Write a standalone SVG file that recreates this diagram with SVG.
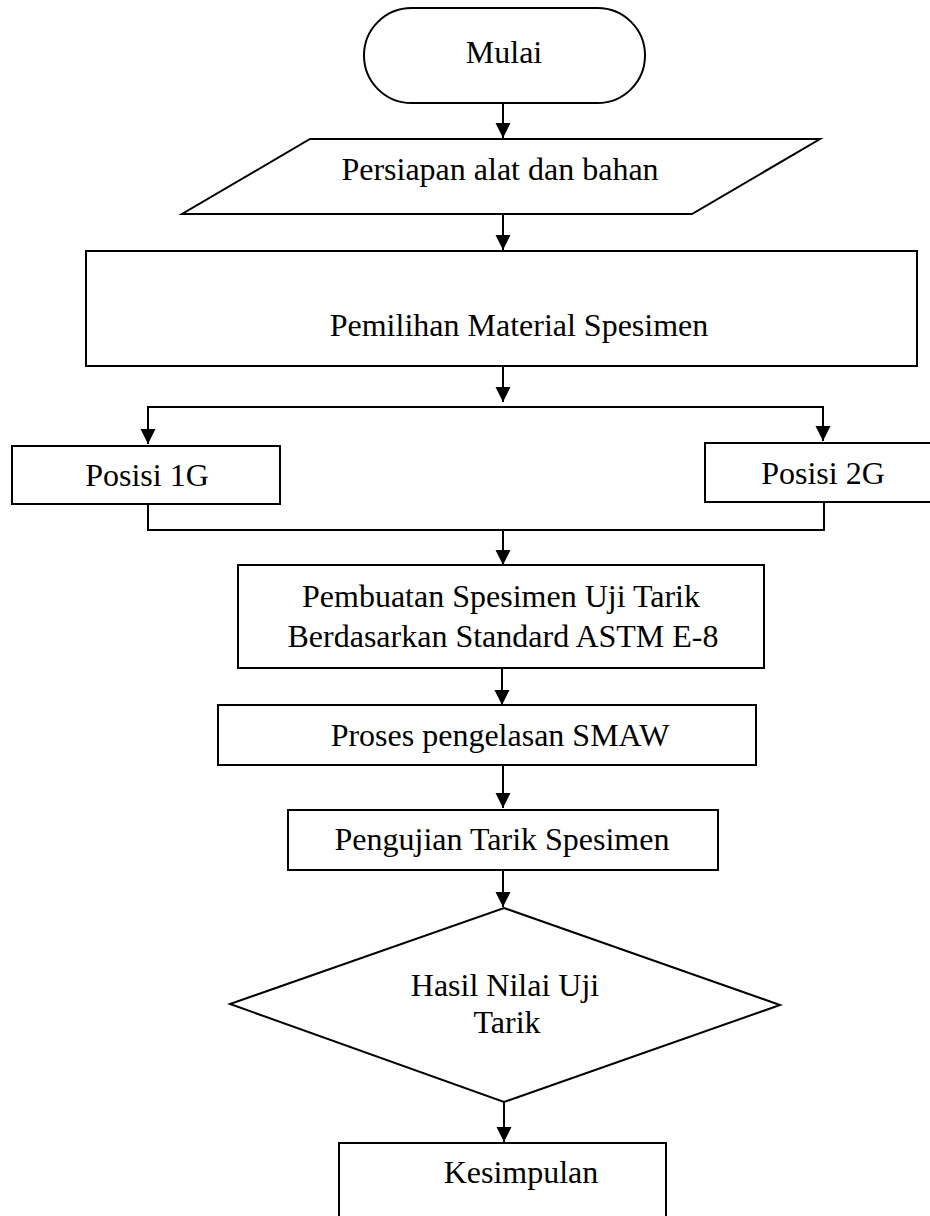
<svg xmlns="http://www.w3.org/2000/svg" width="930" height="1216" viewBox="0 0 930 1216">
<style>
.s{fill:#fff;stroke:#000;stroke-width:2}
.t{font-family:"Liberation Serif","Times New Roman",serif;font-size:32px;fill:#000;text-anchor:middle}
.c{fill:none;stroke:#000;stroke-width:2}
</style>
<defs>
<marker id="ah" markerUnits="userSpaceOnUse" markerWidth="16" markerHeight="16" refX="15" refY="7.5" orient="auto">
<path d="M0,0 L15,7.5 L0,15 z" fill="#000"/>
</marker>
</defs>
<rect width="930" height="1216" fill="#fff"/>
<g id="connectors">
<line class="c" x1="503" y1="103" x2="503" y2="138" marker-end="url(#ah)"/>
<line class="c" x1="503" y1="214" x2="503" y2="250" marker-end="url(#ah)"/>
<line class="c" x1="503" y1="366" x2="503" y2="402" marker-end="url(#ah)"/>
<polyline class="c" points="148,444 148,407 823,407 823,441" marker-end="url(#ah)"/>
<line class="c" x1="148" y1="407" x2="148" y2="444" marker-end="url(#ah)"/>
<polyline class="c" points="148,504 148,530 824,530 824,502"/>
<line class="c" x1="503" y1="530" x2="503" y2="565" marker-end="url(#ah)"/>
<line class="c" x1="502" y1="668" x2="502" y2="705" marker-end="url(#ah)"/>
<line class="c" x1="503" y1="765" x2="503" y2="808" marker-end="url(#ah)"/>
<line class="c" x1="503" y1="870" x2="503" y2="907" marker-end="url(#ah)"/>
<line class="c" x1="504" y1="1102" x2="504" y2="1142" marker-end="url(#ah)"/>
</g>
<g id="mulai">
<rect class="s" x="364" y="8" width="281" height="95" rx="47.5" ry="47.5"/>
<text class="t" x="504" y="63">Mulai</text>
</g>
<g id="persiapan">
<polygon class="s" points="310,139 820,139 692,214 182,214"/>
<text class="t" x="500" y="180">Persiapan alat dan bahan</text>
</g>
<g id="pemilihan">
<rect class="s" x="86" y="251" width="831" height="115"/>
<text class="t" x="519" y="336">Pemilihan Material Spesimen</text>
</g>
<g id="posisi1g">
<rect class="s" x="12" y="446" width="268" height="58"/>
<text class="t" x="147" y="486">Posisi 1G</text>
</g>
<g id="posisi2g">
<rect class="s" x="705" y="443" width="230" height="59"/>
<text class="t" x="823" y="484">Posisi 2G</text>
</g>
<g id="pembuatan">
<rect class="s" x="238" y="565" width="526" height="103"/>
<text class="t" x="501" y="607">Pembuatan Spesimen Uji Tarik</text>
<text class="t" x="503" y="647">Berdasarkan Standard ASTM E-8</text>
</g>
<g id="proses">
<rect class="s" x="218" y="705" width="538" height="60"/>
<text class="t" x="500" y="746">Proses pengelasan SMAW</text>
</g>
<g id="pengujian">
<rect class="s" x="288" y="810" width="430" height="60"/>
<text class="t" x="502" y="850">Pengujian Tarik Spesimen</text>
</g>
<g id="hasil">
<polygon class="s" points="504,908 780,1005 504,1102 230,1004"/>
<text class="t" x="505" y="996">Hasil Nilai Uji</text>
<text class="t" x="507" y="1033">Tarik</text>
</g>
<g id="kesimpulan">
<rect class="s" x="339" y="1143" width="327" height="90"/>
<text class="t" x="521" y="1183">Kesimpulan</text>
</g>
</svg>
